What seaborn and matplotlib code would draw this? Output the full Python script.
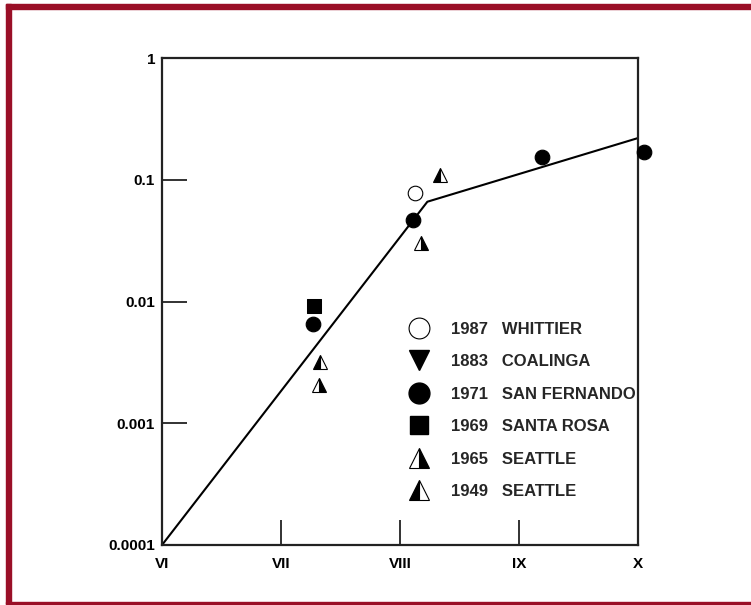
import matplotlib
matplotlib.use("Agg")
import matplotlib.pyplot as plt
import seaborn as sns
import pandas as pd
from matplotlib.lines import Line2D
from matplotlib.patches import Rectangle

# intensity axis (VI..X as numbers)
x_ticks = [6, 7, 8, 9, 10]
x_labels = ['VI', 'VII', 'VIII', 'IX', 'X']
y_ticks = [0.0001, 0.001, 0.01, 0.1, 1]
y_labels = ['0.0001', '0.001', '0.01', '0.1', '1']

# fitted curve
curve_x = [6, 8.23, 10]
curve_y = [0.0001, 0.066, 0.22]

# observations
whittier_x = [8.13]
whittier_y = [0.078]
coalinga_x = []
coalinga_y = []
sanfernando_x = [7.27, 8.11, 9.19, 10.05]
sanfernando_y = [0.0065, 0.047, 0.154, 0.17]
santarosa_x = [7.28]
santarosa_y = [0.0092]
seattle65_x = [7.32, 8.18]
seattle65_y = [0.00206, 0.030]
seattle49_x = [7.33, 8.34]
seattle49_y = [0.0032, 0.11]

sns.set_style('ticks')
plt.rcParams['font.family'] = ['Liberation Sans', 'DejaVu Sans']
plt.rcParams['font.weight'] = 'bold'

fig = plt.figure(figsize=(7.51, 6.05), dpi=100)
ax = fig.add_axes([162 / 751, 1 - 545 / 605, 476 / 751, 487 / 605])

sns.lineplot(x=curve_x, y=curve_y, ax=ax, color='black', linewidth=1.5,
             sort=False, estimator=None)

ms = 110
sns.scatterplot(x=whittier_x, y=whittier_y, ax=ax, marker='o', s=ms,
                facecolor='white', edgecolor='black', linewidth=0.8,
                zorder=3, clip_on=False)
if coalinga_x:
    sns.scatterplot(x=coalinga_x, y=coalinga_y, ax=ax, marker='v', s=ms,
                    color='black', zorder=3, clip_on=False)
sns.scatterplot(x=sanfernando_x, y=sanfernando_y, ax=ax, marker='o', s=ms,
                color='black', edgecolor='black', zorder=3, clip_on=False)
sns.scatterplot(x=santarosa_x, y=santarosa_y, ax=ax, marker='s', s=ms * 0.8,
                color='black', edgecolor='black', zorder=3, clip_on=False)
ax.plot(seattle65_x, seattle65_y, linestyle='', marker='^', markersize=10,
        fillstyle='right', markerfacecolor='black', markerfacecoloralt='white',
        markeredgecolor='black', markeredgewidth=0.8, zorder=3)
ax.plot(seattle49_x, seattle49_y, linestyle='', marker='^', markersize=10,
        fillstyle='left', markerfacecolor='black', markerfacecoloralt='white',
        markeredgecolor='black', markeredgewidth=0.8, zorder=3)

ax.set_yscale('log')
ax.set_xlim(6, 10)
ax.set_ylim(0.0001, 1)
ax.set_xticks(x_ticks)
ax.set_xticklabels(x_labels)
ax.set_yticks(y_ticks)
ax.set_yticklabels(y_labels)
ax.minorticks_off()
ax.tick_params(axis='both', direction='in', length=18, width=1.3,
               colors='#222222', labelsize=11, labelcolor='black')
ax.tick_params(axis='x', pad=9)
ax.tick_params(axis='y', pad=5)
for s in ax.spines.values():
    s.set_visible(True)
    s.set_linewidth(1.6)
    s.set_color('#222222')

handles = [
    Line2D([], [], linestyle='', marker='o', markersize=15, markerfacecolor='white',
           markeredgecolor='black', markeredgewidth=0.8),
    Line2D([], [], linestyle='', marker='v', markersize=15, color='black'),
    Line2D([], [], linestyle='', marker='o', markersize=15, color='black'),
    Line2D([], [], linestyle='', marker='s', markersize=13, color='black'),
    Line2D([], [], linestyle='', marker='^', markersize=15, fillstyle='right',
           markerfacecolor='black', markerfacecoloralt='white',
           markeredgecolor='black', markeredgewidth=0.8),
    Line2D([], [], linestyle='', marker='^', markersize=15, fillstyle='left',
           markerfacecolor='black', markerfacecoloralt='white',
           markeredgecolor='black', markeredgewidth=0.8),
]
labels = ['1987   WHITTIER', '1883   COALINGA', '1971   SAN FERNANDO',
          '1969   SANTA ROSA', '1965   SEATTLE', '1949   SEATTLE']
ax.legend(handles, labels, loc='upper left', bbox_to_anchor=(0.508, 0.472),
          borderaxespad=0, frameon=False, fontsize=12, labelspacing=1.05,
          handlelength=1.0, handletextpad=1.45)

# dark red frame around the figure
red = '#9a0f27'
fig.add_artist(Rectangle((6 / 751, 1 - 9 / 605), 745 / 751, 5 / 605,
                         transform=fig.transFigure, color=red, zorder=10))
fig.add_artist(Rectangle((6 / 751, 1 - 604 / 605), 5 / 751, 600 / 605,
                         transform=fig.transFigure, color=red, zorder=10))
fig.add_artist(Rectangle((6 / 751, 1 - 604 / 605), 745 / 751, 2 / 605,
                         transform=fig.transFigure, color=red, zorder=10))

fig.savefig('out.png', dpi=100)
